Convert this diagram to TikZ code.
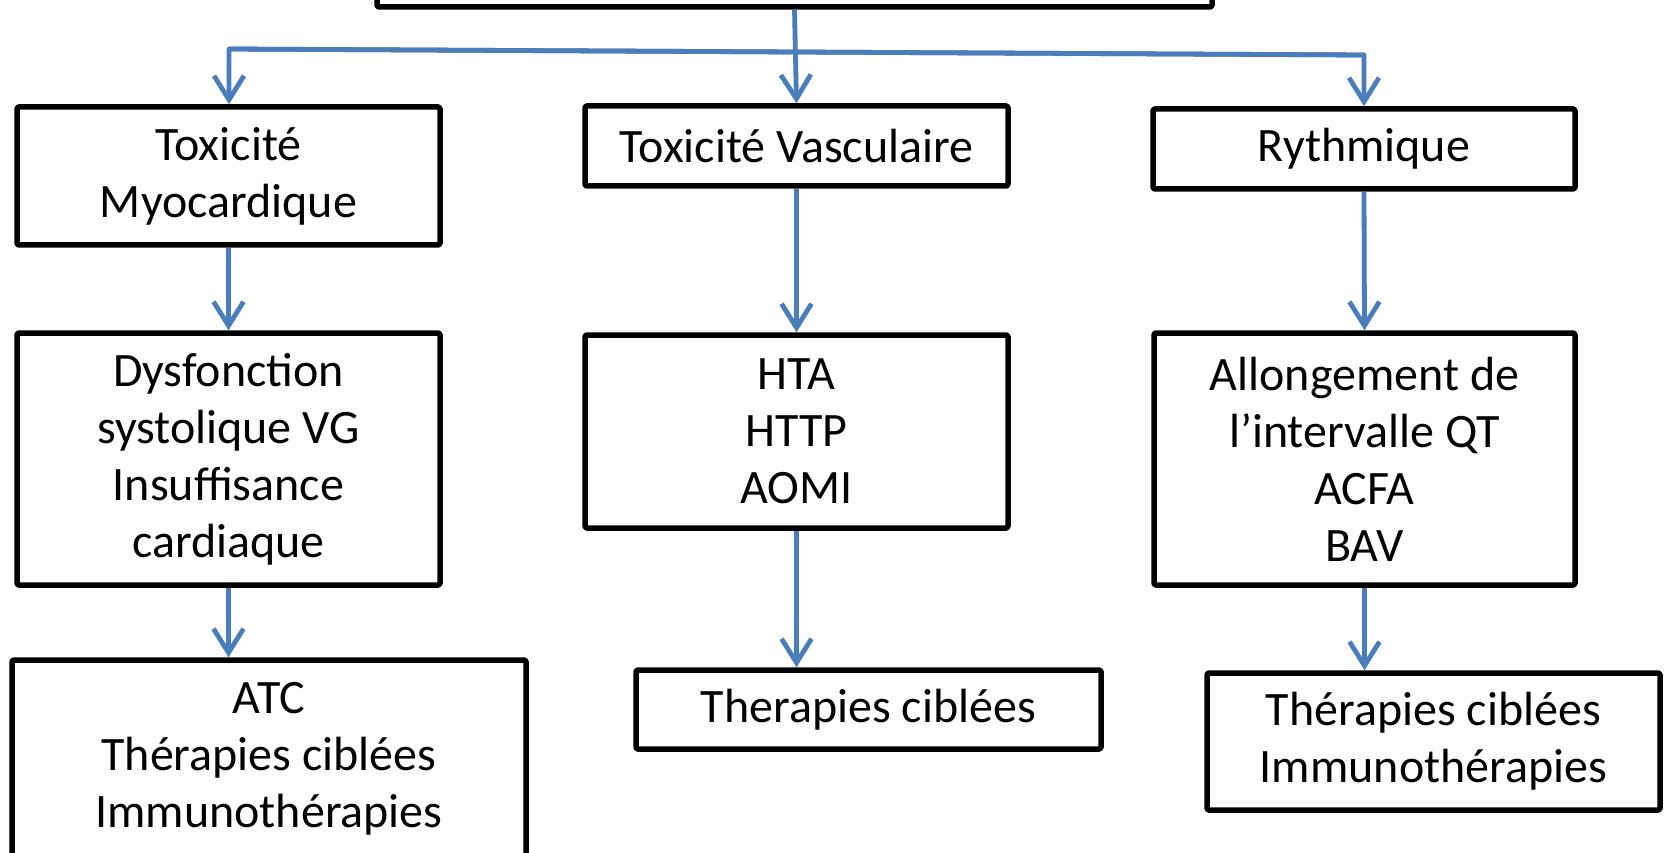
\documentclass[tikz,border=0pt]{standalone}
\usepackage{fontspec}
\setmainfont{Carlito}
\usetikzlibrary{arrows.meta}
\definecolor{arrblue}{HTML}{4A7EBB}
\tikzset{
  box/.style={draw=black, line width=5.5pt, line join=round, rounded corners=1.5pt, fill=white,
    align=center, inner sep=0pt, font=\fontsize{48}{57}\selectfont},
  conn/.style={draw=arrblue, line width=4.8pt, line join=round},
  arr/.style={conn, -{Straight Barb[length=24pt,width=30pt,line width=4.8pt]}},
}
\begin{document}
\begin{tikzpicture}[x=1pt,y=-1pt]
\useasboundingbox (0,0) rectangle (1666,853);
\clip (0,0) rectangle (1666,853);
\node[box, minimum width=835pt, minimum height=100pt] (top) at (794.5,-43) {};
\node[box, minimum width=423pt, minimum height=138pt] (myo) at (228.5,176) {Toxicité\\Myocardique};
\node[box, minimum width=423pt, minimum height=80pt] (vasc) at (796.5,146) {Toxicité Vasculaire};
\node[box, minimum width=422pt, minimum height=80pt] (ryth) at (1364,149) {Rythmique};
\node[box, minimum width=423pt, minimum height=252pt] (dysf) at (228.5,459) {Dysfonction\\systolique VG\\Insuffisance\\cardiaque};
\node[box, minimum width=423pt, minimum height=193pt] (hta) at (796.5,431.5) {HTA\\HTTP\\AOMI};
\node[box, minimum width=421pt, minimum height=252pt] (allong) at (1364.5,459) {Allongement de\\l’intervalle QT\\ACFA\\BAV};
\node[box, minimum width=514pt, minimum height=198pt] (atc) at (269,759) {ATC\\Thérapies ciblées\\Immunothérapies};
\node[box, minimum width=465pt, minimum height=79pt] (ther) at (868.5,709.5) {Therapies ciblées};
\node[box, minimum width=453pt, minimum height=137pt] (thim) at (1433.5,741.5) {Thérapies ciblées\\Immunothérapies};
\coordinate (hl) at (229,49);
\coordinate (hr) at (1364,55);
\draw[arr] (top.south) -- (vasc.north);
\draw[arr] (hr) -- (hl) -- (hl |- myo.north);
\draw[arr] (hl) -- (hr) -- (hr |- ryth.north);
\draw[arr] (myo.south) -- (dysf.north);
\draw[arr] (vasc.south) -- (hta.north);
\draw[arr] (ryth.south) -- (allong.north);
\draw[arr] (dysf.south) -- (dysf.south |- atc.north);
\draw[arr] (hta.south) -- (hta.south |- ther.north);
\draw[arr] (allong.south) -- (allong.south |- thim.north);
\end{tikzpicture}
\end{document}
